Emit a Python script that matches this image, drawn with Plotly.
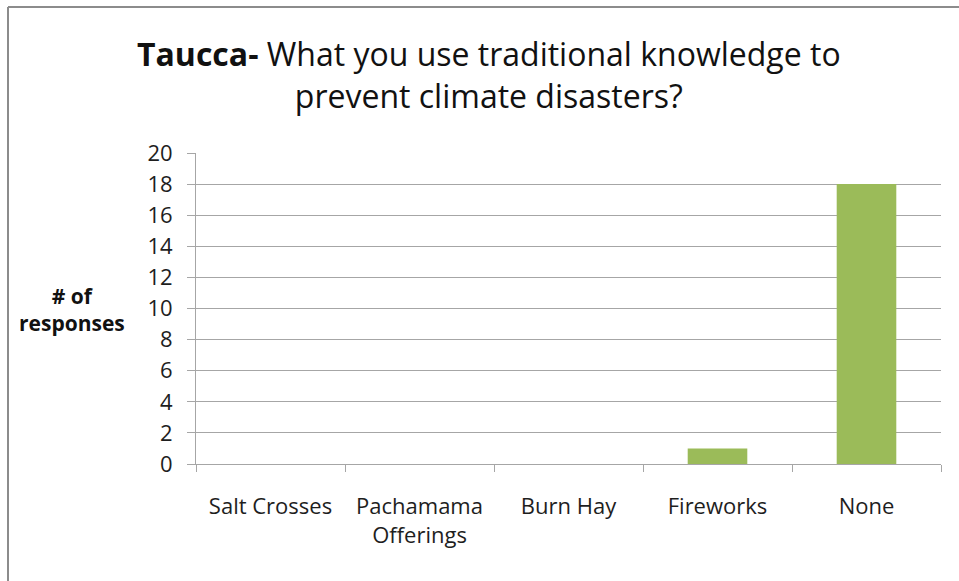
import plotly.graph_objects as go

# Survey responses: traditional knowledge used against climate disasters (Taucca)
categories = ["Salt Crosses", "Pachamama<br>Offerings", "Burn Hay", "Fireworks", "None"]
responses = [0, 0, 0, 1, 18]
y_ticks = [0, 2, 4, 6, 8, 10, 12, 14, 16, 18, 20]

FONT = "Open Sans, sans-serif"
TEXT = "#1e1e1e"
GRID = "#a6a6a6"

W, H = 959, 581
L, R, T, B = 196, 18, 153, 117
pw, ph = W - L - R, H - T - B

def px(x):
    return (x - L) / pw

def py(y):
    return (H - B - y) / ph

fig = go.Figure(
    go.Bar(
        x=categories,
        y=responses,
        marker=dict(color="#9bbb59", line=dict(width=0)),
        width=0.4,
        hoverinfo="x+y",
    )
)

fig.update_layout(
    width=W,
    height=H,
    margin=dict(l=L, r=R, t=T, b=B),
    paper_bgcolor="white",
    plot_bgcolor="white",
    showlegend=False,
    font=dict(family=FONT, color=TEXT),
    annotations=[
        dict(
            text="<b>Taucca-</b> What you use traditional knowledge to<br>prevent climate disasters?",
            xref="paper", yref="paper",
            x=px(489), y=py(74),
            xanchor="center", yanchor="middle",
            showarrow=False,
            font=dict(size=32, family=FONT, color="#111"),
            align="center",
        ),
        dict(
            text="<b># of<br>responses</b>",
            xref="paper", yref="paper",
            x=px(72), y=py(309),
            xanchor="center", yanchor="middle",
            showarrow=False,
            font=dict(size=21, family=FONT, color="#111"),
            align="center",
        ),
    ],
    shapes=[
        dict(type="line", xref="paper", yref="paper",
             x0=px(8), x1=px(8), y0=py(7), y1=py(600),
             line=dict(color="#8c8c8c", width=2)),
        dict(type="line", xref="paper", yref="paper",
             x0=px(8), x1=px(980), y0=py(7), y1=py(7),
             line=dict(color="#8c8c8c", width=2)),
    ],
)

fig.update_xaxes(
    type="category",
    tickson="boundaries",
    ticks="outside",
    ticklen=7,
    tickcolor=GRID,
    showline=True,
    linecolor=GRID,
    linewidth=1,
    showgrid=False,
    tickfont=dict(size=22, family=FONT, color=TEXT),
    ticklabelstandoff=23,
)

fig.update_yaxes(
    range=[0, 20],
    tickvals=y_ticks,
    ticks="outside",
    ticklen=8,
    tickcolor=GRID,
    showline=True,
    linecolor=GRID,
    linewidth=1,
    showgrid=True,
    gridcolor=GRID,
    gridwidth=1,
    zeroline=False,
    tickfont=dict(size=22, family=FONT, color=TEXT),
    ticklabelstandoff=10,
)

fig.write_html("out.html")
